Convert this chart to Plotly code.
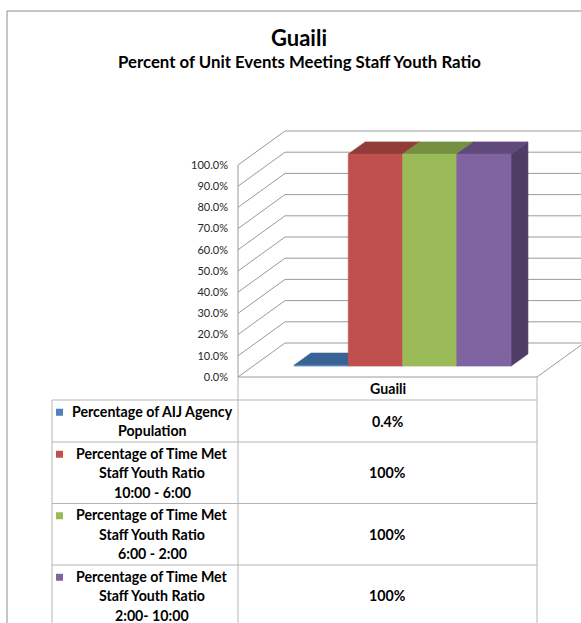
import plotly.graph_objects as go

# ---- data -------------------------------------------------------------
categories = ["Guaili"]
series_labels = [
    ["Percentage of AIJ Agency", "Population"],
    ["Percentage of Time Met", "Staff Youth Ratio", "10:00 - 6:00"],
    ["Percentage of Time Met", "Staff Youth Ratio", "6:00 - 2:00"],
    ["Percentage of Time Met", "Staff Youth Ratio", "2:00- 10:00"],
]
values = [0.4, 100, 100, 100]
tick_vals = [0, 10, 20, 30, 40, 50, 60, 70, 80, 90, 100]
tick_text = [f"{v:.1f}%" for v in tick_vals]

front_colors = ["#4F81BD", "#C0504D", "#9BBB59", "#8064A2"]
top_colors = ["#3A6393", "#923B39", "#768F41", "#5F4A7B"]
side_colors = ["#2E4E75", "#7A302E", "#61773A", "#4F3D65"]

# ---- geometry ---------------------------------------------------------
W_FIG, H_FIG = 581, 623
PCT_PX = 2.12            # pixels per percentage point
FLOOR_PX = 377           # pixel row of the front floor edge
FRONT_L, FRONT_R = 238, 537
DEPTH_X = 47             # horizontal shift of the depth axis (px)
DEPTH_Y = 34 / PCT_PX    # vertical shift of the depth axis (in % units)
BAR_D0, BAR_D1 = 0.32, 0.68
SLOT_W = 54.25

GRID = "#9A9A9A"
TABLE = "#B5B5B5"
FONT = "Lato"
TXT = 14.2


def px(x):
    return x / W_FIG


def py(y):
    return 1 - y / H_FIG


fig = go.Figure()


def line_trace(xs, ys, color=GRID, width=1):
    fig.add_trace(go.Scatter(x=xs, y=ys, mode="lines",
                             line=dict(color=color, width=width),
                             hoverinfo="skip", showlegend=False))


def face(xs, ys, color):
    fig.add_trace(go.Scatter(x=xs + [xs[0]], y=ys + [ys[0]], mode="lines",
                             fill="toself", fillcolor=color,
                             line=dict(color=color, width=0.6),
                             hoverinfo="skip", showlegend=False))


# side wall and back wall gridlines
for v in tick_vals:
    line_trace([FRONT_L, FRONT_L + DEPTH_X, 800], [v, v + DEPTH_Y, v + DEPTH_Y])
# side wall front edge
line_trace([FRONT_L, FRONT_L], [0, 100])
# floor front and right edges
line_trace([FRONT_L, FRONT_R, FRONT_R + DEPTH_X], [0, 0, DEPTH_Y])

# bars, painted left to right so each front hides its neighbour's side
cat_center = (FRONT_L + FRONT_R) / 2
group_left = cat_center - SLOT_W * len(values) / 2
b0 = BAR_D0 * DEPTH_Y
b1 = BAR_D1 * DEPTH_Y
dxb = (BAR_D1 - BAR_D0) * DEPTH_X
for i, v in enumerate(values):
    xl = group_left + i * SLOT_W + BAR_D0 * DEPTH_X
    xr = xl + SLOT_W
    face([xr, xr + dxb, xr + dxb, xr], [b0, b1, b1 + v, b0 + v], side_colors[i])
    face([xl, xr, xr + dxb, xl + dxb], [b0 + v, b0 + v, b1 + v, b1 + v], top_colors[i])
    face([xl, xr, xr, xl], [b0, b0, b0 + v, b0 + v], front_colors[i])

# ---- data table -------------------------------------------------------
LINE_H = 19.5
header_top, header_bot = FLOOR_PX, 400
TABLE_L = 52
LABEL_X = 152
shapes = []


def hline(x0, x1, y, color=TABLE):
    shapes.append(dict(type="line", xref="paper", yref="paper",
                       x0=px(x0), x1=px(x1), y0=py(y), y1=py(y),
                       line=dict(color=color, width=1)))


def vline(x, y0, y1, color=TABLE):
    shapes.append(dict(type="line", xref="paper", yref="paper",
                       x0=px(x), x1=px(x), y0=py(y0), y1=py(y1),
                       line=dict(color=color, width=1)))


annotations = []


def text(x, y, s, size, bold=True, color="#000000", xanchor="center"):
    annotations.append(dict(xref="paper", yref="paper", x=px(x), y=py(y),
                            text=f"<b>{s}</b>" if bold else s,
                            showarrow=False, xanchor=xanchor, yanchor="middle",
                            font=dict(family=FONT, size=size, color=color)))


# header row with category name
vline(FRONT_L, header_top, header_bot)
vline(FRONT_R, header_top, header_bot)
text(cat_center, (header_top + header_bot) / 2, categories[0], TXT)

row_top = header_bot
for i, lines in enumerate(series_labels):
    h = len(lines) * LINE_H + 3
    hline(TABLE_L, FRONT_R, row_top)
    mid = row_top + h / 2
    first = mid - (len(lines) - 1) * LINE_H / 2
    for k, ln in enumerate(lines):
        text(LABEL_X, first + k * LINE_H, ln, TXT)
    # legend key
    shapes.append(dict(type="rect", xref="paper", yref="paper",
                       x0=px(56), x1=px(63), y0=py(first - 2.5), y1=py(first + 4.5),
                       fillcolor=front_colors[i], line=dict(width=0)))
    text(cat_center, mid, f"{values[i]:g}%", TXT)
    row_top += h
vline(TABLE_L, header_bot, H_FIG + 20)
vline(FRONT_L, header_bot, H_FIG + 20)
vline(FRONT_R, header_bot, H_FIG + 20)

# outer chart border
shapes.append(dict(type="line", xref="paper", yref="paper",
                   x0=px(7), x1=px(W_FIG + 10), y0=py(11), y1=py(11),
                   line=dict(color="#8C8C8C", width=1)))
shapes.append(dict(type="line", xref="paper", yref="paper",
                   x0=px(7), x1=px(7), y0=py(11), y1=py(H_FIG + 10),
                   line=dict(color="#8C8C8C", width=1)))

# titles
text(299, 37, "Guaili", 22)
text(299, 61, "Percent of Unit Events Meeting Staff Youth Ratio", 16.8)

fig.update_layout(
    width=W_FIG, height=H_FIG,
    margin=dict(l=0, r=0, t=0, b=0),
    paper_bgcolor="white", plot_bgcolor="white",
    showlegend=False,
    shapes=shapes, annotations=annotations,
    xaxis=dict(range=[0, W_FIG], visible=False, fixedrange=True, domain=[0, 1]),
    yaxis=dict(range=[(FLOOR_PX - H_FIG) / PCT_PX, FLOOR_PX / PCT_PX],
               domain=[0, 1], anchor="free", position=px(228),
               tickvals=tick_vals, ticktext=tick_text,
               ticks="", showgrid=False, zeroline=False, showline=False,
               tickfont=dict(family=FONT, size=11, color="#262626"),
               fixedrange=True),
)

fig.write_html("out.html")
